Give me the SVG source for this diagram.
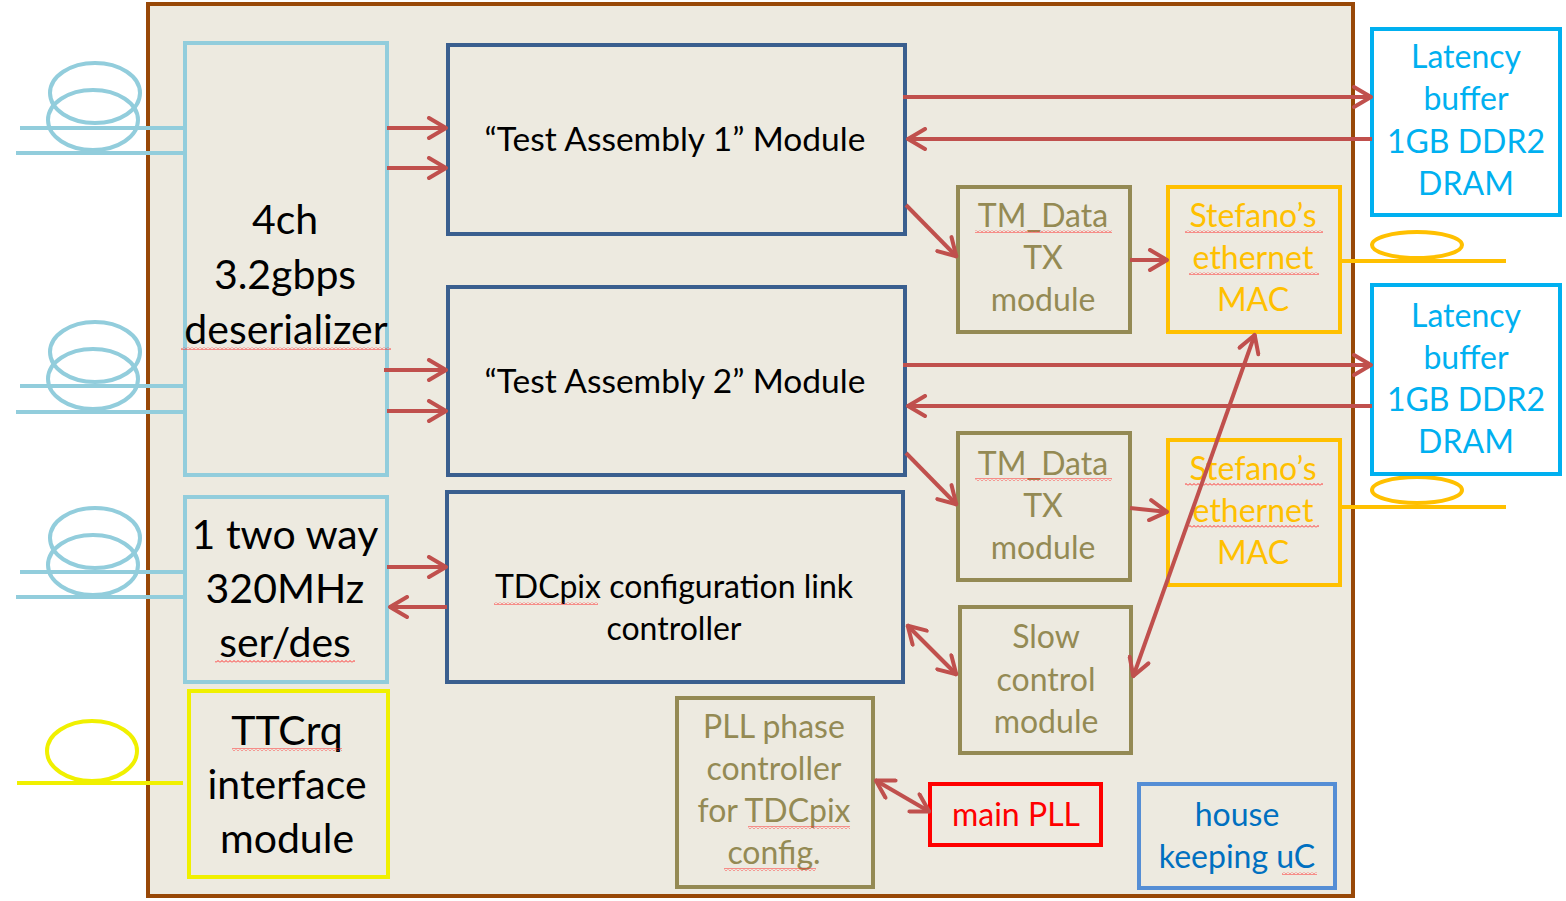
<svg xmlns="http://www.w3.org/2000/svg" width="1566" height="901" viewBox="0 0 1566 901">
  <style>
    text { font-family: Lato, "Open Sans", "Liberation Sans", sans-serif; text-anchor: middle; }
    .big { font-size: 41px; fill: #000; }
    .mid { font-size: 32px; fill: #000; }
    .olive { font-size: 32px; fill: #948A54; }
    .orange { font-size: 32px; fill: #FFC000; }
    .cyan { font-size: 32px; fill: #00B0F0; }
    .box { fill: none; stroke-width: 4; }
    .conn { stroke: #C0504D; stroke-width: 4; fill: none; }
    .cable { fill: none; stroke-width: 4; }
    .sq { fill: url(#squiggle); }
  </style>
  <defs>
    <marker id="arrow" viewBox="-22 -12 24 24" markerWidth="24" markerHeight="24" refX="0" refY="0" orient="auto-start-reverse" markerUnits="userSpaceOnUse">
      <path d="M-18,-10 L-1,0 L-18,10" fill="none" stroke="#C0504D" stroke-width="4" stroke-linecap="round" stroke-linejoin="round"/>
    </marker>
    <pattern id="squiggle" width="4" height="3" patternUnits="userSpaceOnUse">
      <path d="M0,2.5 L2,0.5 L4,2.5" fill="none" stroke="#FF3030" stroke-width="1"/>
    </pattern>
  </defs>

  <rect width="1566" height="901" fill="#FFFFFF"/>

  <!-- board outline -->
  <rect id="board" x="148" y="4" width="1205" height="892" fill="#EDEAE0" stroke="#984807" stroke-width="4"/>

  <!-- fibre / cable coils -->
  <g id="cables">
    <g stroke="#92CDDC" class="cable">
      <ellipse cx="95" cy="93" rx="45" ry="30"/>
      <ellipse cx="93" cy="120" rx="45" ry="30"/>
      <line x1="20" y1="128" x2="185" y2="128"/>
      <line x1="16" y1="153" x2="185" y2="153"/>

      <ellipse cx="95" cy="352" rx="45" ry="30"/>
      <ellipse cx="93" cy="379" rx="45" ry="30"/>
      <line x1="20" y1="386" x2="185" y2="386"/>
      <line x1="16" y1="412" x2="185" y2="412"/>

      <ellipse cx="95" cy="538" rx="45" ry="30"/>
      <ellipse cx="93" cy="565" rx="45" ry="30"/>
      <line x1="20" y1="572" x2="185" y2="572"/>
      <line x1="16" y1="597" x2="185" y2="597"/>
    </g>
    <g stroke="#F0F000" class="cable">
      <ellipse cx="92" cy="751" rx="45" ry="30"/>
      <line x1="17" y1="783" x2="183" y2="783"/>
    </g>
    <g stroke="#FFC000" class="cable">
      <ellipse cx="1417" cy="245" rx="45" ry="13"/>
      <line x1="1340" y1="261" x2="1506" y2="261"/>
      <ellipse cx="1417" cy="490" rx="45" ry="13"/>
      <line x1="1340" y1="507" x2="1506" y2="507"/>
    </g>
  </g>

  <!-- deserializer -->
  <g id="deserializer">
    <rect class="box" x="185" y="43" width="202" height="432" stroke="#92CDDC"/>
    <text class="big" x="285" y="234">4ch</text>
    <text class="big" x="285" y="289">3.2gbps</text>
    <text class="big" x="286" y="344">deserializer</text>
    <rect class="sq" x="181" y="347" width="210" height="3"/>
  </g>

  <!-- serdes -->
  <g id="serdes">
    <rect class="box" x="185" y="497" width="202" height="185" stroke="#92CDDC"/>
    <text class="big" x="285" y="549">1 two way</text>
    <text class="big" x="285" y="603">320MHz</text>
    <text class="big" x="285" y="657">ser/des</text>
    <rect class="sq" x="215" y="660" width="140" height="3"/>
  </g>

  <!-- TTCrq -->
  <g id="ttcrq">
    <rect class="box" x="189" y="691" width="199" height="186" stroke="#F0F000"/>
    <text class="big" x="287" y="745">TTCrq</text>
    <rect class="sq" x="232" y="748" width="110" height="3"/>
    <text class="big" x="287" y="799">interface</text>
    <text class="big" x="287" y="853">module</text>
  </g>

  <!-- test assembly modules -->
  <g id="ta1">
    <rect class="box" x="448" y="45" width="457" height="189" stroke="#3A5F8F"/>
    <text class="mid" x="675" y="151" font-size="33" style="font-size:33.5px">“Test Assembly 1” Module</text>
  </g>
  <g id="ta2">
    <rect class="box" x="448" y="287" width="457" height="188" stroke="#3A5F8F"/>
    <text class="mid" x="675" y="393" style="font-size:33.5px">“Test Assembly 2” Module</text>
  </g>

  <!-- TDCpix config -->
  <g id="tdcpix-config">
    <rect class="box" x="447" y="492" width="456" height="190" stroke="#3A5F8F"/>
    <text class="mid" x="674" y="598">TDCpix configuration link</text>
    <rect class="sq" x="494" y="602" width="104" height="3"/>
    <text class="mid" x="674" y="640">controller</text>
  </g>

  <!-- TM_Data TX modules -->
  <g id="tmdata1">
    <rect class="box" x="958" y="187" width="172" height="145" stroke="#948A54"/>
    <text class="olive" x="1043" y="227">TM_Data</text>
    <rect class="sq" x="975" y="230" width="137" height="3"/>
    <text class="olive" x="1043" y="269">TX</text>
    <text class="olive" x="1043" y="311">module</text>
  </g>
  <g id="tmdata2">
    <rect class="box" x="958" y="433" width="172" height="147" stroke="#948A54"/>
    <text class="olive" x="1043" y="475">TM_Data</text>
    <rect class="sq" x="975" y="478" width="137" height="3"/>
    <text class="olive" x="1043" y="517">TX</text>
    <text class="olive" x="1043" y="559">module</text>
  </g>

  <!-- slow control -->
  <g id="slowcontrol">
    <rect class="box" x="960" y="607" width="171" height="146" stroke="#948A54"/>
    <text class="olive" x="1046" y="648">Slow</text>
    <text class="olive" x="1046" y="691">control</text>
    <text class="olive" x="1046" y="733">module</text>
  </g>

  <!-- ethernet MACs -->
  <g id="mac1">
    <rect class="box" x="1168" y="187" width="172" height="145" stroke="#FFC000"/>
    <text class="orange" x="1253" y="227">Stefano’s</text>
    <rect class="sq" x="1185" y="230" width="138" height="3"/>
    <text class="orange" x="1253" y="269">ethernet</text>
    <rect class="sq" x="1189" y="272" width="130" height="3"/>
    <text class="orange" x="1253" y="311">MAC</text>
  </g>
  <g id="mac2">
    <rect class="box" x="1168" y="440" width="172" height="145" stroke="#FFC000"/>
    <text class="orange" x="1253" y="480">Stefano’s</text>
    <rect class="sq" x="1185" y="483" width="138" height="3"/>
    <text class="orange" x="1253" y="522">ethernet</text>
    <rect class="sq" x="1189" y="525" width="130" height="3"/>
    <text class="orange" x="1253" y="564">MAC</text>
  </g>

  <!-- latency buffers -->
  <g id="latency1">
    <rect class="box" x="1372" y="29" width="188" height="186" stroke="#00B0F0" style="fill:#FFFFFF"/>
    <text class="cyan" x="1466" y="68">Latency</text>
    <text class="cyan" x="1466" y="110">buffer</text>
    <text class="cyan" x="1466" y="153">1GB DDR2</text>
    <text class="cyan" x="1466" y="195">DRAM</text>
  </g>
  <g id="latency2">
    <rect class="box" x="1372" y="285" width="188" height="189" stroke="#00B0F0" style="fill:#FFFFFF"/>
    <text class="cyan" x="1466" y="327">Latency</text>
    <text class="cyan" x="1466" y="369">buffer</text>
    <text class="cyan" x="1466" y="411">1GB DDR2</text>
    <text class="cyan" x="1466" y="453">DRAM</text>
  </g>

  <!-- PLL phase controller -->
  <g id="pllphase">
    <rect class="box" x="677" y="698" width="196" height="189" stroke="#948A54"/>
    <text class="olive" x="774" y="738">PLL phase</text>
    <text class="olive" x="774" y="780">controller</text>
    <text class="olive" x="774" y="822">for TDCpix</text>
    <rect class="sq" x="748" y="826" width="102" height="3"/>
    <text class="olive" x="774" y="864">config.</text>
    <rect class="sq" x="724" y="868" width="92" height="3"/>
  </g>

  <!-- main PLL -->
  <g id="mainpll">
    <rect class="box" x="930" y="784" width="171" height="61" stroke="#FF0000"/>
    <text class="mid" x="1016" y="826" style="fill:#FF0000">main PLL</text>
  </g>

  <!-- housekeeping microcontroller -->
  <g id="housekeeping">
    <rect class="box" x="1139" y="784" width="196" height="104" stroke="#558ED5"/>
    <text class="mid" x="1237" y="826" style="fill:#0070C0">house</text>
    <text class="mid" x="1237" y="868" style="fill:#0070C0">keeping uC</text>
    <rect class="sq" x="1282" y="872" width="35" height="3"/>
  </g>

  <!-- connectors -->
  <g id="connectors" class="conn">
    <line x1="387" y1="128" x2="447" y2="128" marker-end="url(#arrow)"/>
    <line x1="387" y1="168" x2="447" y2="168" marker-end="url(#arrow)"/>
    <line x1="384" y1="370" x2="447" y2="370" marker-end="url(#arrow)"/>
    <line x1="387" y1="411" x2="447" y2="411" marker-end="url(#arrow)"/>
    <line x1="387" y1="567" x2="447" y2="567" marker-end="url(#arrow)"/>
    <line x1="447" y1="607" x2="389" y2="607" marker-end="url(#arrow)"/>

    <line x1="903" y1="97" x2="1372" y2="97" marker-end="url(#arrow)"/>
    <line x1="1372" y1="139" x2="907" y2="139" marker-end="url(#arrow)"/>
    <line x1="903" y1="365" x2="1372" y2="365" marker-end="url(#arrow)"/>
    <line x1="1372" y1="406" x2="907" y2="406" marker-end="url(#arrow)"/>

    <line x1="906" y1="205" x2="957" y2="257" marker-end="url(#arrow)"/>
    <line x1="906" y1="453" x2="957" y2="505" marker-end="url(#arrow)"/>
    <line x1="1130" y1="260" x2="1168" y2="260" marker-end="url(#arrow)"/>
    <line x1="1130" y1="508" x2="1168" y2="512" marker-end="url(#arrow)"/>

    <line x1="907" y1="625" x2="957" y2="675" marker-start="url(#arrow)" marker-end="url(#arrow)"/>
    <line x1="1255" y1="334" x2="1133" y2="677" marker-start="url(#arrow)" marker-end="url(#arrow)"/>
    <line x1="875" y1="780" x2="930" y2="812" marker-start="url(#arrow)" marker-end="url(#arrow)"/>
  </g>
</svg>
